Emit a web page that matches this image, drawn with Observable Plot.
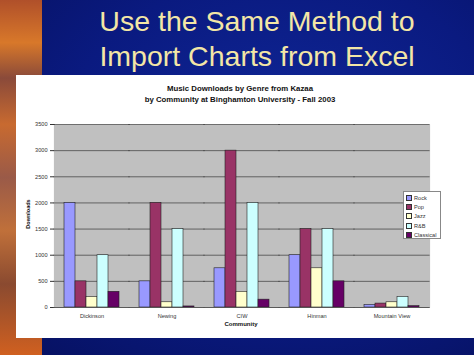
<!DOCTYPE html>
<html><head><meta charset="utf-8">
<script src="https://cdn.jsdelivr.net/npm/d3@7"></script>
<script src="https://cdn.jsdelivr.net/npm/@observablehq/plot@0.6"></script>
<style>
html,body{margin:0;padding:0;}
body{width:474px;height:355px;overflow:hidden;position:relative;font-family:"Liberation Sans",Arial,sans-serif;
 background:radial-gradient(ellipse at 60% 40%,#10289a 0%,#0a1a80 55%,#06105e 100%);}
#deco{position:absolute;left:0;top:0;width:42px;height:355px;
 background:linear-gradient(180deg,#b0502a 0%,#d8782a 12%,#8a4a3a 22%,#c86a30 35%,#9a5a48 50%,#c0703a 65%,#8a4a30 80%,#d06020 100%);}
#title{position:absolute;left:40px;width:434px;top:4px;text-align:center;color:#f3e6a6;font-size:28.5px;line-height:35px;}
#card{position:absolute;left:16px;top:75px;width:458px;height:263px;background:#fff;}
#t1{position:absolute;left:0;width:448px;top:9px;text-align:center;font-weight:bold;font-size:7.8px;color:#111;}
#t2{position:absolute;left:0;width:448px;top:20px;text-align:center;font-weight:bold;font-size:7.8px;color:#111;}
#ylab{position:absolute;left:-8px;top:136px;width:40px;text-align:center;font-weight:bold;font-size:5.5px;transform:rotate(-90deg);color:#111;}
#xlab{position:absolute;left:190px;top:246px;width:70px;text-align:center;font-weight:bold;font-size:6px;color:#111;}
#legend{position:absolute;left:387px;top:116px;width:38px;height:48px;border:0.8px solid #888;background:#fff;font-size:5.6px;color:#333;padding-top:1px;box-sizing:border-box;}
.li{height:9.4px;display:flex;align-items:center;padding-left:2px;}
.sw{width:4px;height:4px;border:0.6px solid #333;margin-right:2px;}
svg{position:absolute;left:0;top:0;}
</style></head>
<body>
<div id="deco"></div>
<div id="title">Use the Same Method to<br>Import Charts from Excel</div>
<div id="card">
<div id="chart"></div>
<div id="t1">Music Downloads by Genre from Kazaa</div>
<div id="t2">by Community at Binghamton University - Fall 2003</div>
<div id="ylab">Downloads</div>
<div id="xlab">Community</div>
<div id="legend"></div>
</div>
<script>
const communities = ["Dickinson","Newing","CIW","Hinman","Mountain View"];
const genres = ["Rock","Pop","Jazz","R&B","Classical"];
const colors = ["#9999ff","#993366","#ffffcc","#ccffff","#660066"];
const rock      = [2000, 500, 750, 1000, 50];
const pop       = [500, 2000, 3000, 1500, 75];
const jazz      = [200, 100, 300, 750, 100];
const rnb       = [1000, 1500, 2000, 1500, 200];
const classical = [300, 20, 150, 500, 25];
const yTicks = [0,500,1000,1500,2000,2500,3000,3500];

const series = [rock, pop, jazz, rnb, classical];
const data = [];
communities.forEach((c,i)=>genres.forEach((g,j)=>data.push({community:c, genre:g, value:series[j][i]})));

const plot = Plot.plot({
  width: 458, height: 263,
  marginLeft: 36, marginRight: 44, marginTop: 49, marginBottom: 31,
  style: {background: "transparent", fontFamily: "Liberation Sans, Arial, sans-serif", fontSize: "5.6px", color: "#333"},
  fx: {domain: communities, padding: 0, label: null, tickSize: 0, tickPadding: 7},
  x: {domain: genres, paddingInner: 0, paddingOuter: 0.7, axis: null},
  y: {domain: [0, 3500], ticks: yTicks, tickSize: 4, tickPadding: 3, label: null, line: true, tickFormat: d => String(d)},
  color: {domain: genres, range: colors},
  marks: [
    Plot.frame({fill: "#c0c0c0", insetLeft: -0.6, insetRight: -0.6}),
    Plot.ruleY(yTicks, {stroke: "#222", strokeWidth: 0.6, insetLeft: -0.6, insetRight: -0.6}),
    Plot.barY(data, {fx: "community", x: "genre", y: "value", fill: "genre", stroke: "#222", strokeWidth: 0.6}),
    Plot.ruleY([0], {stroke: "#555", strokeWidth: 0.8, insetLeft: -0.6, insetRight: -0.6})
  ]
});
document.getElementById("chart").appendChild(plot);

const lg = document.getElementById("legend");
genres.forEach((g,i)=>{
  const d = document.createElement("div"); d.className="li";
  d.innerHTML = `<span class="sw" style="background:${colors[i]}"></span>${g}`;
  lg.appendChild(d);
});
</script>
</body></html>
